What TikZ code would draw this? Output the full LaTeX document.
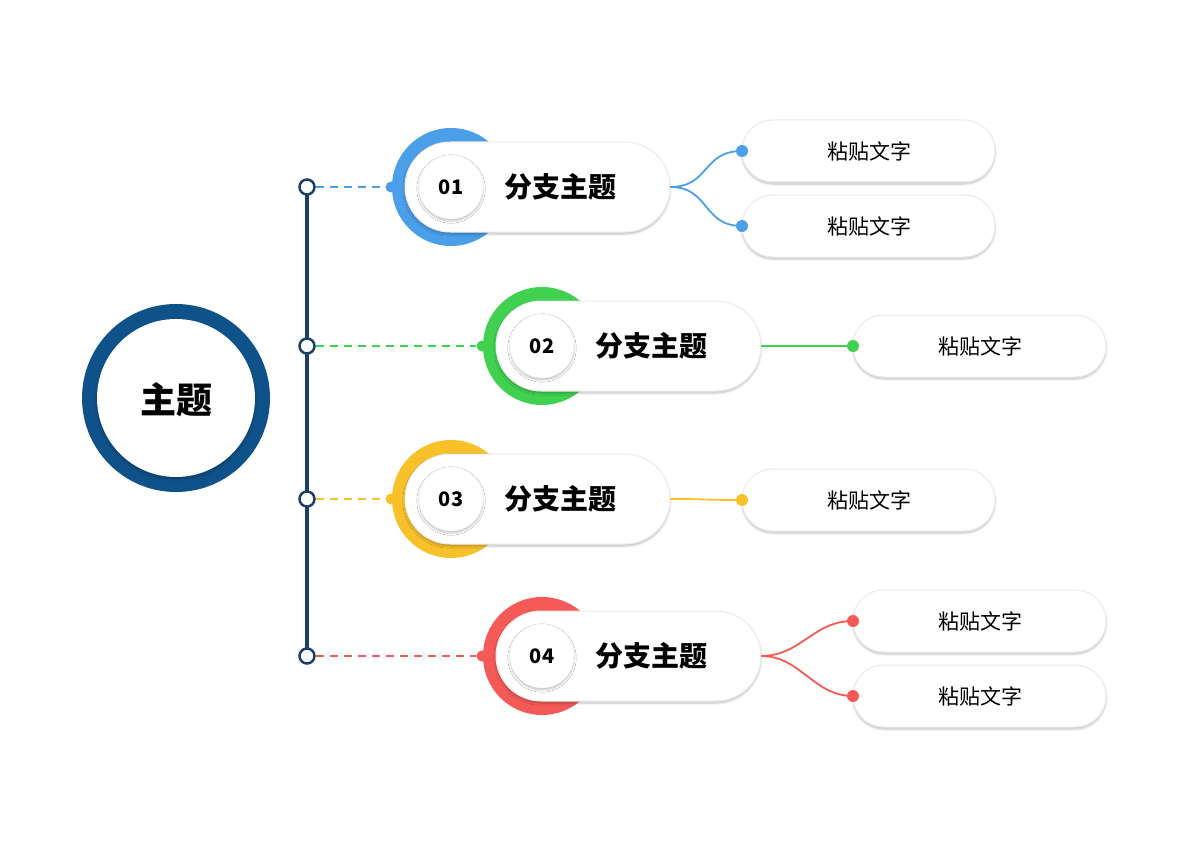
\documentclass[tikz,border=0pt]{standalone}
\usepackage{fontspec}
\setmainfont{Noto Sans CJK SC}
\usetikzlibrary{shadows.blur}
\definecolor{cblue}{HTML}{4A9FE8}
\definecolor{cgreen}{HTML}{3FD14F}
\definecolor{cyellow}{HTML}{F8C12A}
\definecolor{cred}{HTML}{F55A57}
\definecolor{dkblue}{HTML}{0F5189}
\definecolor{spine}{HTML}{1B3F66}
\tikzset{
  sh/.style={blur shadow={shadow xshift=0pt,shadow yshift=-2pt,shadow blur steps=6,shadow opacity=25}},
  pill/.style={draw=black!8,line width=1pt,fill=white,rounded corners=#1,sh},
  knob/.style={circle,draw=spine,line width=2.5pt,fill=white,minimum size=15pt,inner sep=0pt},
  dot/.style={circle,fill=#1,minimum size=12pt,inner sep=0pt},
  leaftxt/.style={font=\fontsize{21}{21}\selectfont},
}
\begin{document}
\begin{tikzpicture}[x=1pt,y=-1pt]
\useasboundingbox (0,0) rectangle (1200,848);
% main topic
\fill[dkblue] (176,398) circle (94);
\node[circle,fill=white,minimum size=158pt,inner sep=0pt,sh] (main) at (176,398) {};
\node[font=\bfseries\fontsize{36}{36}\selectfont] (maintxt) at (176,400) {主题};
% spine
\coordinate (s1) at (307,187);
\coordinate (s4) at (307,656);
\draw[spine,line width=4pt] (s1) -- (s4);
% branches
\foreach \i/\cx/\cy/\col/\num in {1/451/187/cblue/01, 2/542/346/cgreen/02, 3/451/499/cyellow/03, 4/542/656/cred/04}{
  \node[knob] (k\i) at (307,\cy) {};
  \fill[\col] (\cx,\cy) circle (59);
  \draw[pill=45pt] (\cx-46,\cy-45) rectangle (\cx+219,\cy+45);
  \coordinate (pr\i) at (\cx+219,\cy);
  \node[circle,fill=white,draw=black!6,minimum size=64pt,inner sep=0pt,sh] (c\i) at (\cx,\cy) {};
  \node[font=\bfseries\fontsize{20}{20}\selectfont] (n\i) at (\cx,\cy) {\num};
  \node[font=\bfseries\fontsize{28}{28}\selectfont] (t\i) at (\cx+109,\cy) {分支主题};
  \node[dot=\col,minimum size=11pt] (d\i) at (\cx-60,\cy) {};
  \draw[\col,line width=2pt,dash pattern=on 8pt off 6pt] (k\i) -- (d\i);
}
% leaves
\foreach \name/\x/\y/\col/\src in {a/742/151/cblue/pr1, b/742/226/cblue/pr1, c/853/346/cgreen/pr2, d/742/500/cyellow/pr3, e/853/621/cred/pr4, f/853/696/cred/pr4}{
  \draw[pill=31pt] (\x,\y-31) rectangle (\x+253,\y+31);
  \node[leaftxt] (l\name) at (\x+127,\y) {粘贴文字};
  \node[dot=\col] (e\name) at (\x,\y) {};
  \draw[\col,line width=1.8pt] (\src) .. controls ([xshift=40pt]\src) and ([xshift=-40pt]e\name.center) .. (e\name.center);
}
\end{tikzpicture}
\end{document}
